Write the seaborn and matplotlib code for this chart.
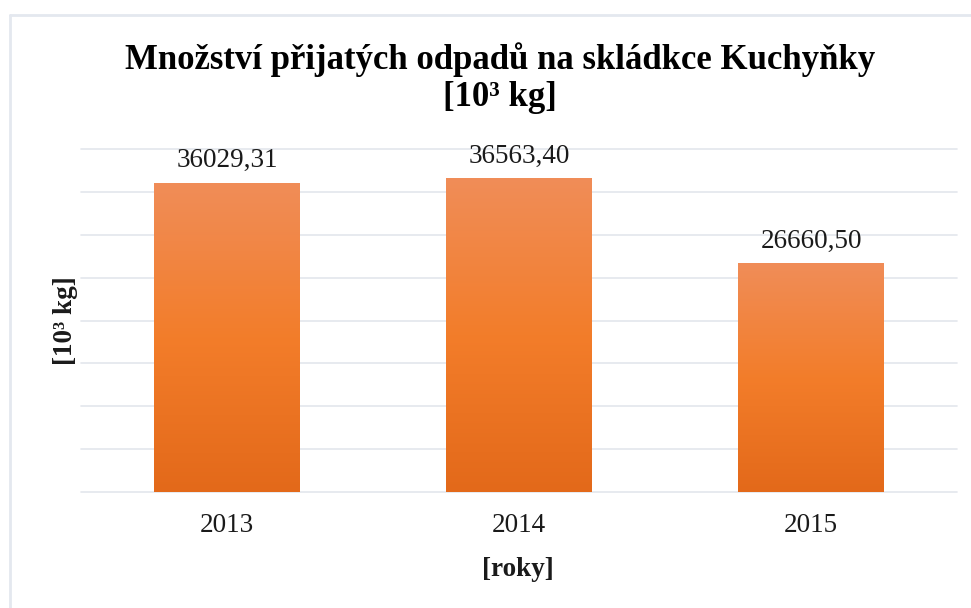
import numpy as np
import pandas as pd
import matplotlib
matplotlib.use("Agg")
import matplotlib.pyplot as plt
from matplotlib.colors import LinearSegmentedColormap
from matplotlib.lines import Line2D
import seaborn as sns

# ---- data ----
years = ["2013", "2014", "2015"]
values = [36029.31, 36563.40, 26660.50]
title_text = "Množství přijatých odpadů na skládkce Kuchyňky\n[10³ kg]"
xlabel_text = "[roky]"
ylabel_text = "[10³ kg]"

df = pd.DataFrame({"rok": years, "hodnota": values})

sns.set_theme(style="white")
plt.rcParams["font.family"] = ["Liberation Serif", "DejaVu Serif"]

W, H = 971, 608
fig = plt.figure(figsize=(W / 100, H / 100), dpi=100)
fig.patch.set_facecolor("white")

ax_left, ax_right, ax_base, ax_top = 81, 957, 492, 149
ax = fig.add_axes([ax_left / W, (H - ax_base) / H, (ax_right - ax_left) / W, (ax_base - ax_top) / H])

sns.barplot(data=df, x="rok", y="hodnota", color="#F47E2C", width=0.5, ax=ax,
            edgecolor="none", linewidth=0, zorder=3)

ax.set_xlim(-0.5, 2.5)
ax.set_ylim(0, 40000)
ax.set_yticks(np.arange(0, 40001, 5000))
ax.yaxis.grid(True, color="#E3E6EC", linewidth=1.2, zorder=0)
ax.set_axisbelow(True)
for s in ax.spines.values():
    s.set_visible(False)
ax.tick_params(axis="y", left=False, labelleft=False)
ax.tick_params(axis="x", bottom=False, length=0, pad=15, labelsize=19.5, labelcolor="#1a1a1a")
for gl in ax.get_ygridlines():
    gl.set_clip_on(False)

# gradient overlay on each bar
cmap = LinearSegmentedColormap.from_list("og", ["#E3691A", "#F37D2A", "#F08D58"])
grad = np.linspace(0, 1, 256).reshape(-1, 1)
for p in ax.patches:
    x0, y0 = p.get_x(), p.get_y()
    w, h = p.get_width(), p.get_height()
    im = ax.imshow(grad, extent=[x0, x0 + w, y0, y0 + h], origin="lower",
                   cmap=cmap, aspect="auto", zorder=4)
    im.set_clip_path(p)
ax.set_xlim(-0.5, 2.5)
ax.set_ylim(0, 40000)

labels = [f"{v:.2f}".replace(".", ",") for v in values]
ax.bar_label(ax.containers[0], labels=labels, padding=7, fontsize=19.5, color="#1a1a1a", zorder=5)

ax.set_xlabel(xlabel_text, fontsize=19.5, fontweight="bold", color="#1a1a1a")
ax.xaxis.set_label_coords((518 - ax_left) / (ax_right - ax_left), (ax_base - 570) / (ax_base - ax_top))
ax.xaxis.label.set_va("center")
ax.set_ylabel(ylabel_text, fontsize=19.5, fontweight="bold", color="#1a1a1a", va="center")
ax.yaxis.set_label_coords((65 - ax_left) / (ax_right - ax_left), (ax_base - 321) / (ax_base - ax_top))

fig.text(500 / W, 1 - 78 / H, title_text, ha="center", va="center", fontsize=25,
         fontweight="bold", color="black", linespacing=1.15)

# outer chart frame (left and top edges visible)
fig.add_artist(Line2D([10 / W, 10 / W], [0, 1 - 15 / H], transform=fig.transFigure,
                      color="#E4E8EF", linewidth=2))
fig.add_artist(Line2D([10 / W, 1], [1 - 15 / H, 1 - 15 / H], transform=fig.transFigure,
                      color="#E4E8EF", linewidth=2))

fig.savefig("out.png", dpi=100, facecolor="white")
